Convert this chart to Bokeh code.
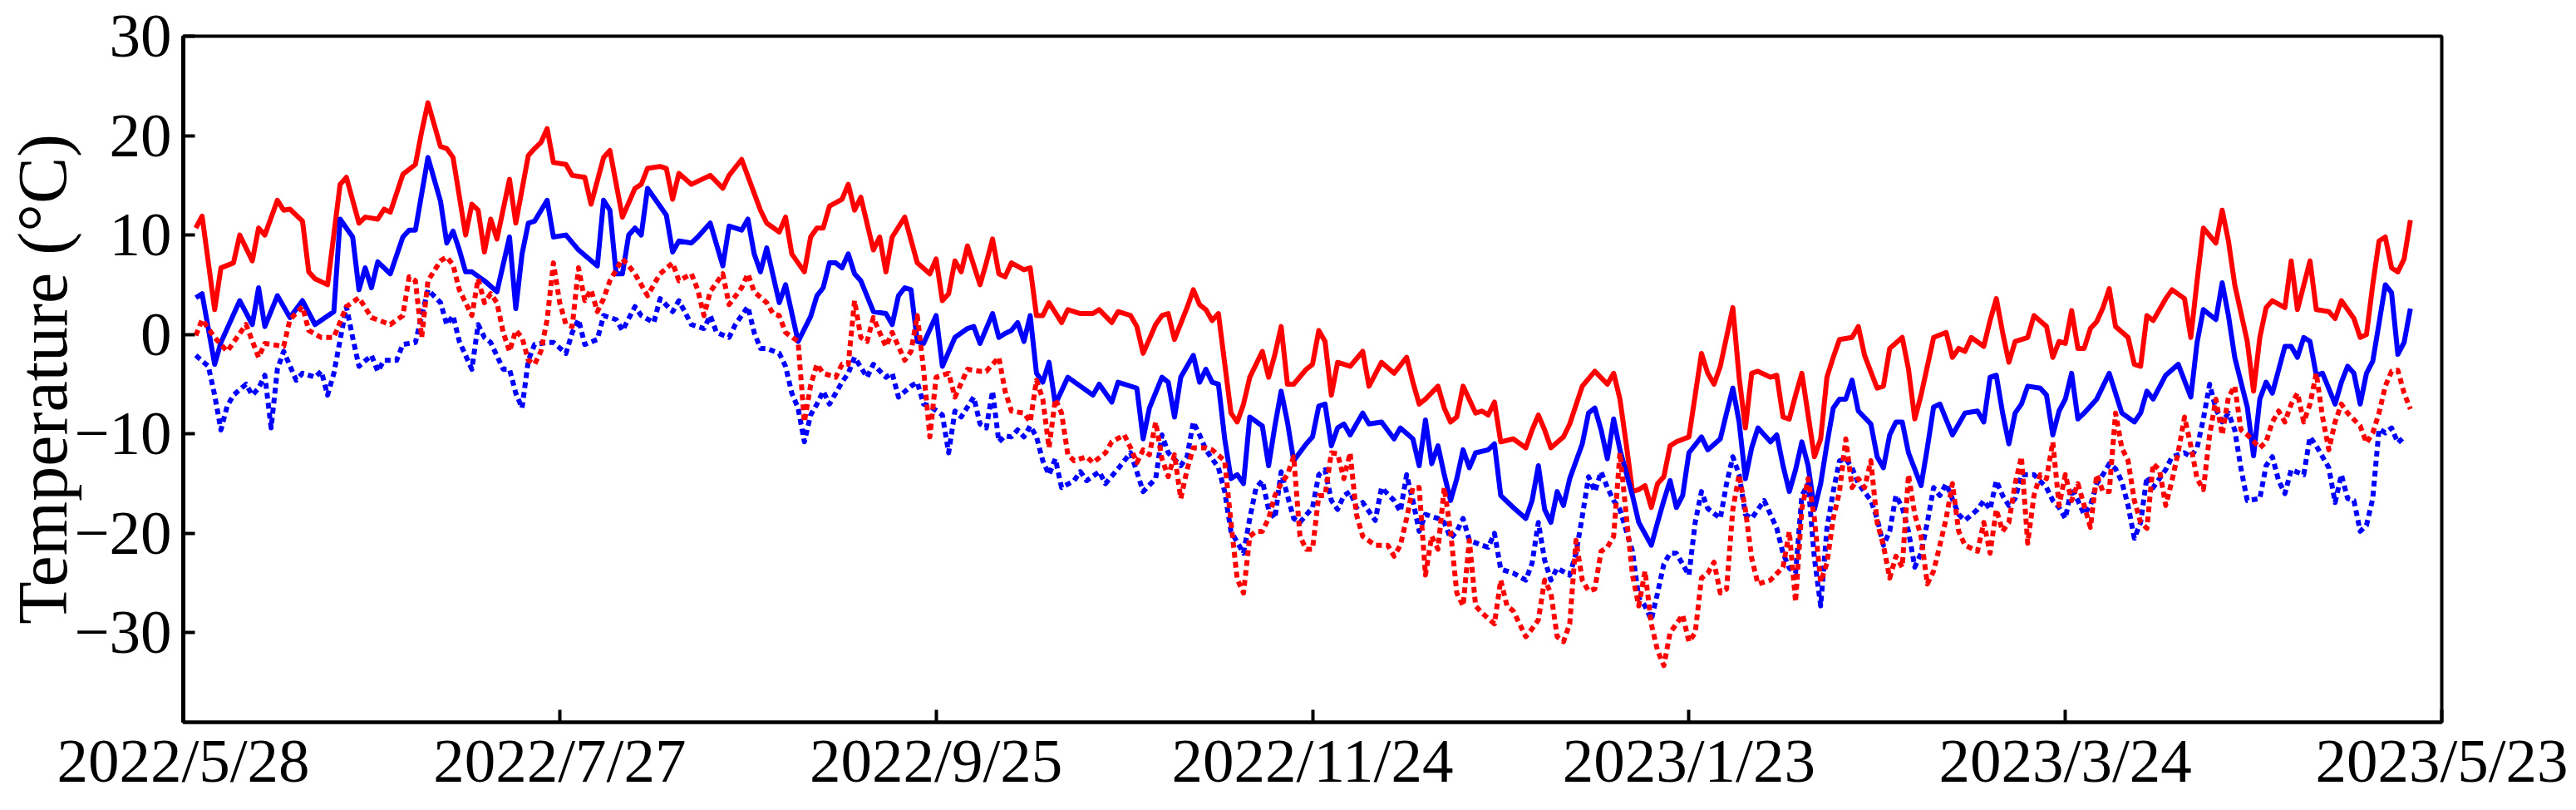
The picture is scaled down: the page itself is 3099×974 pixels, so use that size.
import datetime as dt
from bokeh.plotting import figure
from bokeh.models import Range1d, FixedTicker
from bokeh.embed import file_html
from bokeh.resources import INLINE

# ---------------- data (day offset from 2022/5/28, temperature in °C) ----------------
START = dt.datetime(2022, 5, 28)
EPOCH = dt.datetime(1970, 1, 1)

x_tick_days = [0, 60, 120, 180, 240, 300, 360]
x_tick_labels = ["2022/5/28", "2022/7/27", "2022/9/25", "2022/11/24",
                 "2023/1/23", "2023/3/24", "2023/5/23"]
y_tick_values = [-30, -20, -10, 0, 10, 20, 30]
y_tick_labels = ["\u221230", "\u221220", "\u221210", "0", "10", "20", "30"]
y_axis_title = "Temperature (\u00b0C)"

red_solid = [(2,10.7),(3,11.9),(5,2.5),(6,6.7),(8,7.2),(9,10.0),(11,7.4),(12,10.7),(13,10.0),(15,13.5),(16,12.5),(17,12.6),(19,11.4),(20,6.3),(21,5.6),(23,5.0),(25,15.1),(26,15.8),(28,11.2),(29,11.8),(31,11.6),(32,12.6),(33,12.3),(35,16.1),(37,17.1),(38,20.4),(39,23.3),(41,18.9),(42,18.7),(43,17.8),(45,10.0),(46,13.1),(47,12.5),(48,8.3),(49,11.6),(50,9.6),(52,15.6),(53,11.2),(55,18.0),(56,18.7),(57,19.3),(58,20.7),(59,17.3),(61,17.1),(62,16.0),(64,15.8),(65,13.1),(67,17.8),(68,18.5),(70,11.8),(72,14.7),(73,15.1),(74,16.7),(76,16.9),(77,16.7),(78,13.6),(79,16.2),(81,15.1),(84,16.0),(86,14.7),(87,16.0),(89,17.6),(91,14.2),(92,12.5),(93,11.2),(95,10.3),(96,11.8),(97,8.1),(99,6.3),(100,9.8),(101,10.7),(102,10.7),(103,12.9),(105,13.6),(106,15.1),(107,12.5),(108,13.8),(110,8.5),(111,9.8),(112,6.3),(113,9.8),(115,11.8),(117,7.2),(119,6.1),(120,7.6),(121,3.4),(122,4.1),(123,7.4),(124,6.3),(125,8.9),(127,5.0),(128,7.2),(129,9.6),(130,6.1),(131,5.8),(132,7.2),(134,6.5),(135,6.7),(136,1.9),(137,1.9),(138,3.2),(140,1.2),(141,2.5),(143,2.1),(145,2.1),(146,2.5),(148,1.2),(149,2.3),(151,1.9),(152,0.8),(153,-1.9),(155,1.0),(156,1.9),(157,2.1),(158,-0.5),(160,2.7),(161,4.5),(162,3.0),(163,2.5),(164,1.4),(165,2.1),(167,-7.9),(168,-8.8),(169,-7.0),(170,-4.3),(172,-1.7),(173,-4.3),(174,-2.0),(175,0.8),(176,-5.0),(177,-5.0),(179,-3.5),(180,-3.0),(181,0.4),(182,-0.7),(183,-6.1),(184,-2.8),(186,-3.2),(188,-1.7),(189,-5.2),(191,-2.8),(193,-3.9),(195,-2.3),(196,-4.8),(197,-7.0),(198,-6.5),(200,-5.2),(201,-7.4),(202,-8.8),(203,-8.3),(204,-5.2),(206,-7.9),(207,-7.7),(208,-8.1),(209,-6.8),(210,-10.8),(212,-10.5),(214,-11.4),(215,-9.6),(216,-8.1),(217,-9.6),(218,-11.4),(220,-10.3),(221,-9.0),(223,-5.2),(225,-3.7),(227,-5.0),(228,-3.9),(229,-6.5),(230,-11.0),(231,-15.8),(232,-15.6),(233,-15.2),(234,-17.4),(235,-15.0),(236,-14.3),(237,-11.2),(238,-10.8),(240,-10.3),(241,-6.1),(242,-1.9),(243,-3.9),(244,-5.0),(245,-3.2),(247,2.7),(248,-4.3),(249,-9.4),(250,-3.9),(251,-3.7),(253,-4.3),(254,-4.1),(255,-8.3),(256,-8.5),(257,-6.1),(258,-3.9),(259,-8.1),(260,-12.3),(261,-10.5),(262,-4.3),(263,-2.3),(264,-0.5),(266,-0.3),(267,0.8),(268,-2.1),(270,-5.4),(271,-5.2),(272,-1.4),(274,-0.3),(275,-3.5),(276,-8.5),(277,-6.1),(279,-0.3),(281,0.2),(282,-2.3),(283,-1.4),(284,-1.7),(285,-0.3),(287,-1.2),(288,1.4),(289,3.6),(290,0.2),(291,-2.8),(292,-0.7),(294,-0.3),(295,1.9),(297,0.8),(298,-2.3),(299,-0.7),(300,-0.9),(301,2.4),(302,-1.4),(303,-1.4),(304,0.6),(305,1.3),(306,2.7),(307,4.6),(308,0.8),(310,-0.3),(311,-3.0),(312,-3.2),(313,1.9),(314,1.4),(316,3.6),(317,4.5),(319,3.6),(320,-0.3),(321,5.4),(322,10.7),(324,9.2),(325,12.5),(326,9.4),(327,5.0),(329,-0.7),(330,-5.7),(331,-0.3),(332,2.7),(333,3.4),(335,2.7),(336,7.4),(337,2.5),(339,7.4),(340,2.5),(342,2.3),(343,1.6),(344,3.4),(346,1.6),(347,-0.3),(348,0.0),(349,5.0),(350,9.4),(351,9.8),(352,6.7),(353,6.3),(354,7.6),(355,11.5)]

blue_solid = [(2,3.7),(3,4.1),(5,-3.0),(6,-0.8),(9,3.4),(11,1.0),(12,4.7),(13,0.8),(15,3.9),(17,1.7),(19,3.4),(21,1.0),(24,2.3),(25,11.6),(27,9.8),(28,4.5),(29,6.7),(30,4.7),(31,7.3),(33,6.1),(35,9.8),(36,10.5),(37,10.5),(39,17.8),(41,13.4),(42,9.2),(43,10.4),(44,8.5),(45,6.3),(46,6.3),(48,5.4),(50,4.3),(52,9.8),(53,2.6),(54,8.1),(55,11.2),(56,11.4),(58,13.5),(59,9.8),(61,10.0),(63,8.5),(66,6.9),(67,13.5),(68,12.5),(69,6.1),(70,6.1),(71,10.0),(72,10.7),(73,10.0),(74,14.7),(77,12.0),(78,8.3),(79,9.4),(81,9.2),(82,9.8),(84,11.2),(86,6.9),(87,10.9),(89,10.5),(90,11.6),(91,8.1),(92,6.3),(93,8.7),(95,3.2),(96,5.0),(98,-0.7),(100,1.8),(101,3.9),(102,4.7),(103,7.2),(104,7.2),(105,6.7),(106,8.1),(107,6.1),(108,5.4),(110,2.3),(112,2.1),(113,1.0),(114,3.9),(115,4.7),(116,4.5),(117,-0.7),(118,-0.9),(120,1.9),(121,-3.2),(123,-0.3),(125,0.6),(126,0.8),(127,-0.9),(129,2.1),(130,-0.3),(131,0.1),(132,0.4),(133,1.2),(134,-0.7),(135,1.9),(136,-3.9),(137,-4.8),(138,-2.8),(139,-7.0),(141,-4.3),(143,-5.2),(145,-6.1),(146,-5.0),(148,-6.8),(149,-4.8),(152,-5.4),(153,-10.5),(154,-7.4),(156,-4.3),(157,-4.8),(158,-8.3),(159,-4.3),(161,-2.1),(162,-4.8),(163,-3.5),(164,-4.8),(165,-5.0),(166,-10.5),(167,-14.5),(168,-14.1),(169,-15.0),(170,-8.3),(172,-9.2),(173,-13.2),(174,-9.2),(175,-5.7),(176,-8.8),(177,-12.7),(179,-11.0),(180,-10.3),(181,-7.2),(182,-7.0),(183,-11.2),(184,-9.4),(185,-9.0),(186,-10.1),(188,-7.9),(189,-9.0),(191,-8.8),(193,-10.5),(194,-9.4),(196,-10.5),(197,-13.2),(198,-8.6),(199,-13.0),(200,-11.2),(201,-14.1),(202,-16.7),(203,-14.5),(204,-11.6),(205,-13.4),(206,-11.9),(208,-11.6),(209,-11.0),(210,-16.2),(212,-17.4),(214,-18.5),(215,-16.7),(216,-13.2),(217,-17.6),(218,-18.9),(219,-15.8),(220,-17.2),(221,-14.5),(223,-11.0),(224,-7.9),(225,-7.4),(226,-9.6),(227,-12.5),(228,-8.5),(229,-11.6),(231,-16.2),(232,-18.9),(234,-21.2),(235,-18.9),(236,-16.7),(237,-14.7),(238,-17.4),(239,-16.2),(240,-11.9),(242,-10.3),(243,-11.6),(245,-10.5),(246,-7.9),(247,-5.4),(248,-8.8),(249,-14.5),(250,-11.4),(251,-9.4),(253,-10.8),(254,-10.1),(255,-13.2),(256,-15.8),(257,-13.6),(258,-10.8),(259,-13.2),(260,-17.6),(261,-15.0),(262,-11.0),(263,-7.4),(264,-6.5),(265,-6.5),(266,-4.6),(267,-7.7),(269,-9.0),(270,-12.3),(271,-13.4),(272,-10.1),(273,-8.8),(274,-8.8),(275,-11.9),(277,-15.2),(278,-11.4),(279,-7.3),(280,-7.0),(282,-10.1),(284,-7.9),(286,-7.7),(287,-8.8),(288,-4.3),(289,-4.1),(290,-7.9),(291,-11.0),(292,-7.9),(293,-7.0),(294,-5.2),(296,-5.4),(297,-6.1),(298,-10.1),(299,-7.7),(300,-6.5),(301,-3.9),(302,-8.5),(303,-7.9),(305,-6.5),(306,-5.2),(307,-3.9),(309,-7.9),(311,-8.8),(312,-7.9),(313,-5.7),(314,-6.5),(316,-4.1),(318,-3.0),(320,-6.3),(321,-0.8),(322,2.5),(324,1.5),(325,5.2),(326,1.9),(327,-2.3),(329,-7.3),(330,-12.2),(331,-6.5),(332,-4.8),(333,-5.9),(335,-1.2),(336,-1.2),(337,-2.3),(338,-0.3),(339,-0.7),(340,-4.1),(341,-3.9),(343,-7.0),(344,-4.8),(345,-3.2),(346,-3.9),(347,-7.0),(348,-3.9),(349,-2.7),(350,1.1),(351,5.0),(352,4.2),(353,-2.0),(354,-0.8),(355,2.6)]

red_dotted = [(2,-0.1),(3,1.5),(5,-0.3),(7,-1.7),(10,1.0),(12,-2.3),(13,-0.9),(16,-1.2),(17,1.5),(19,2.8),(20,0.4),(22,-0.3),(24,-0.3),(26,2.8),(28,3.7),(30,1.7),(33,1.0),(35,1.9),(36,5.8),(37,5.4),(38,-0.3),(39,5.4),(41,7.4),(42,7.8),(43,7.0),(44,4.5),(46,1.9),(47,5.6),(48,3.2),(49,4.1),(50,3.2),(51,0.2),(52,-1.7),(53,0.4),(54,-0.3),(55,-2.6),(56,-3.0),(57,-1.7),(58,1.5),(59,7.2),(60,3.2),(61,1.0),(62,0.8),(63,6.7),(64,3.4),(65,4.5),(66,2.3),(67,3.6),(68,5.4),(70,7.6),(71,6.9),(72,6.1),(74,3.9),(76,6.1),(78,7.2),(79,5.4),(81,6.1),(82,4.5),(83,1.9),(84,4.3),(86,6.1),(87,3.0),(89,4.7),(90,6.1),(91,4.3),(93,3.2),(94,2.1),(95,1.9),(96,0.2),(98,-0.7),(99,-8.8),(100,-5.1),(101,-3.0),(102,-3.9),(104,-4.3),(105,-3.0),(106,-3.0),(107,3.4),(108,-0.3),(109,-0.7),(110,1.7),(111,0.2),(112,-1.2),(113,0.2),(115,-2.6),(116,-1.7),(117,1.9),(118,-3.5),(119,-10.3),(120,-4.3),(122,-3.9),(123,-6.3),(125,-3.5),(127,-3.7),(128,-3.7),(130,-2.3),(131,-5.7),(132,-7.7),(134,-7.9),(135,-8.8),(136,-4.6),(137,-6.5),(138,-11.4),(139,-6.5),(140,-7.9),(141,-12.1),(142,-12.7),(144,-12.3),(145,-12.9),(147,-11.9),(148,-10.8),(150,-10.1),(151,-11.4),(152,-12.9),(153,-11.6),(154,-12.1),(155,-8.8),(156,-12.5),(157,-14.3),(158,-12.1),(159,-16.5),(160,-13.6),(161,-11.4),(163,-11.4),(164,-11.6),(166,-12.7),(167,-18.9),(168,-24.6),(169,-26.0),(170,-20.3),(171,-19.8),(172,-19.8),(173,-18.5),(174,-16.2),(175,-15.0),(176,-14.1),(177,-12.3),(178,-20.3),(179,-21.6),(180,-21.6),(181,-16.2),(182,-16.2),(183,-11.9),(184,-12.0),(185,-14.5),(186,-11.9),(187,-18.1),(188,-20.3),(190,-21.2),(192,-21.2),(193,-22.3),(194,-21.2),(195,-18.5),(196,-15.4),(197,-15.4),(198,-24.2),(199,-20.3),(200,-21.6),(201,-15.4),(202,-19.8),(203,-26.0),(204,-27.3),(205,-20.7),(206,-27.3),(207,-28.0),(209,-29.1),(210,-24.7),(211,-27.3),(212,-27.8),(214,-30.4),(215,-29.6),(216,-28.7),(217,-24.7),(218,-26.0),(219,-30.4),(220,-30.9),(221,-29.1),(222,-20.7),(223,-24.7),(224,-25.8),(225,-25.6),(226,-21.8),(227,-21.4),(228,-20.3),(229,-11.9),(230,-18.1),(231,-24.2),(232,-27.3),(233,-23.8),(234,-29.1),(235,-31.8),(236,-33.3),(237,-30.0),(239,-28.2),(240,-30.9),(241,-30.0),(242,-24.5),(243,-24.0),(244,-22.9),(245,-26.0),(246,-25.6),(247,-17.6),(248,-14.1),(249,-17.6),(250,-22.5),(251,-25.1),(252,-24.9),(253,-24.7),(255,-23.4),(256,-19.8),(257,-26.9),(258,-17.5),(259,-14.5),(260,-18.5),(261,-24.9),(262,-23.0),(263,-18.5),(264,-15.8),(265,-10.5),(266,-15.4),(267,-14.5),(268,-15.4),(269,-12.7),(270,-18.9),(271,-21.2),(272,-24.5),(273,-22.3),(274,-23.4),(275,-14.1),(276,-18.1),(277,-20.3),(278,-25.1),(279,-23.8),(280,-21.2),(281,-18.5),(282,-15.0),(283,-19.8),(284,-21.2),(286,-21.8),(287,-18.9),(288,-22.0),(289,-17.6),(290,-19.8),(291,-18.9),(292,-15.0),(293,-12.3),(294,-21.0),(295,-16.2),(296,-14.1),(297,-14.5),(298,-10.8),(299,-17.2),(300,-14.1),(301,-16.7),(302,-15.0),(303,-17.2),(304,-19.4),(305,-14.1),(306,-15.8),(307,-15.8),(308,-7.9),(309,-11.4),(310,-12.7),(311,-16.7),(312,-18.9),(313,-19.5),(314,-13.0),(315,-13.6),(316,-17.2),(317,-14.7),(318,-11.8),(319,-8.3),(320,-11.2),(321,-14.5),(322,-15.6),(323,-10.1),(324,-6.5),(325,-10.1),(326,-6.3),(327,-5.2),(328,-9.6),(329,-10.1),(331,-11.4),(332,-10.8),(333,-8.8),(334,-7.7),(335,-8.8),(336,-7.0),(337,-5.9),(338,-8.8),(339,-7.0),(340,-3.9),(341,-8.3),(342,-11.6),(343,-8.8),(344,-7.0),(345,-7.9),(347,-9.2),(348,-10.9),(349,-9.9),(350,-7.9),(351,-5.2),(352,-3.7),(353,-3.6),(354,-5.9),(355,-7.5)]

blue_dotted = [(2,-2.1),(4,-3.2),(5,-6.1),(6,-9.6),(7,-7.2),(8,-6.1),(10,-5.0),(11,-6.1),(12,-5.4),(13,-4.1),(14,-9.4),(15,-3.5),(16,-1.7),(18,-4.6),(19,-3.9),(21,-4.3),(22,-3.7),(23,-6.1),(24,-3.9),(26,2.8),(27,-0.3),(28,-3.2),(30,-2.1),(31,-3.7),(32,-2.6),(34,-2.6),(35,-1.0),(37,-0.8),(39,4.5),(41,3.2),(42,1.0),(43,1.9),(44,-0.7),(45,-2.1),(46,-3.5),(47,1.0),(48,-0.3),(49,-0.8),(51,-3.5),(52,-3.5),(53,-5.9),(54,-7.4),(55,-2.6),(56,-1.0),(58,-0.8),(59,-0.8),(61,-1.9),(62,0.2),(63,1.5),(64,-1.0),(66,-0.5),(67,1.9),(69,1.5),(70,0.4),(72,2.8),(73,1.9),(75,1.2),(76,3.6),(78,2.3),(79,3.4),(81,1.0),(83,0.6),(84,1.9),(85,0.2),(87,-0.3),(88,1.0),(90,2.8),(91,0.2),(92,-1.4),(93,-1.4),(95,-1.9),(96,-3.2),(97,-5.9),(98,-7.4),(99,-10.8),(100,-8.1),(101,-7.0),(102,-5.7),(103,-7.0),(105,-4.8),(106,-3.9),(107,-2.3),(109,-4.3),(110,-3.0),(112,-4.3),(113,-3.9),(114,-6.3),(116,-5.2),(117,-4.8),(118,-7.0),(119,-7.2),(121,-8.1),(122,-11.9),(123,-7.7),(124,-8.3),(126,-6.3),(127,-9.0),(128,-9.4),(129,-5.7),(130,-10.8),(131,-10.2),(132,-10.3),(133,-9.6),(134,-10.3),(135,-9.2),(136,-10.3),(137,-12.7),(138,-14.1),(139,-12.5),(140,-15.4),(142,-14.7),(143,-13.8),(144,-14.7),(146,-13.8),(147,-15.0),(149,-13.5),(151,-11.9),(152,-13.8),(153,-15.8),(155,-14.5),(156,-10.1),(157,-11.9),(159,-13.2),(160,-12.3),(161,-8.8),(162,-10.1),(163,-11.6),(164,-12.5),(165,-13.4),(166,-15.8),(167,-19.8),(168,-20.9),(169,-22.0),(170,-18.5),(171,-15.4),(172,-14.7),(173,-17.6),(174,-18.5),(175,-13.8),(176,-16.2),(177,-18.5),(178,-18.9),(180,-17.4),(181,-14.1),(182,-13.6),(183,-16.7),(184,-17.6),(185,-16.2),(186,-15.8),(187,-17.4),(188,-16.9),(190,-18.7),(191,-15.4),(193,-16.7),(194,-17.8),(195,-14.1),(196,-16.7),(197,-19.8),(198,-18.1),(200,-18.5),(201,-18.9),(202,-20.5),(203,-19.8),(204,-18.5),(205,-20.7),(207,-21.2),(208,-21.4),(209,-20.0),(210,-23.6),(212,-24.0),(214,-24.7),(215,-23.0),(216,-18.9),(217,-22.7),(218,-24.7),(219,-23.5),(221,-24.2),(222,-22.0),(223,-18.3),(224,-14.3),(225,-15.8),(226,-13.8),(227,-15.4),(228,-16.7),(229,-17.6),(231,-21.8),(232,-26.5),(233,-27.3),(234,-28.7),(235,-26.0),(236,-23.1),(237,-22.0),(238,-22.0),(240,-24.2),(241,-18.9),(242,-15.8),(243,-17.5),(245,-18.5),(246,-15.0),(247,-12.3),(248,-14.1),(249,-18.1),(250,-18.5),(252,-16.7),(253,-18.1),(254,-19.5),(255,-22.0),(256,-23.5),(257,-24.0),(258,-16.2),(259,-15.0),(260,-22.5),(261,-27.3),(262,-19.5),(263,-15.8),(264,-12.7),(265,-12.5),(266,-13.4),(267,-15.0),(269,-16.7),(270,-18.5),(271,-21.2),(272,-19.8),(273,-16.2),(274,-17.4),(275,-19.8),(276,-23.4),(277,-22.0),(278,-18.9),(279,-15.4),(280,-16.2),(281,-15.0),(283,-18.1),(284,-18.7),(286,-17.6),(287,-16.7),(288,-17.6),(289,-14.7),(290,-16.2),(291,-17.2),(292,-16.5),(293,-14.1),(295,-14.1),(297,-15.4),(298,-16.7),(299,-17.4),(300,-18.5),(301,-15.4),(302,-16.7),(303,-18.1),(304,-17.2),(305,-15.0),(306,-14.1),(307,-13.0),(308,-13.5),(309,-14.8),(310,-17.2),(311,-20.5),(312,-18.9),(313,-14.3),(314,-15.4),(316,-13.6),(317,-12.3),(319,-11.9),(320,-12.3),(321,-11.4),(322,-8.5),(323,-5.0),(324,-7.5),(325,-8.8),(326,-7.9),(327,-9.6),(328,-13.5),(329,-16.7),(331,-16.5),(332,-13.2),(333,-12.3),(334,-14.7),(335,-16.0),(336,-13.6),(338,-14.1),(339,-10.3),(340,-11.2),(341,-12.3),(342,-13.4),(343,-16.9),(344,-14.1),(345,-16.5),(346,-16.7),(347,-19.8),(348,-19.2),(349,-16.5),(350,-9.5),(351,-9.9),(352,-9.4),(353,-10.9),(354,-10.3)]

# ---------------- helpers ----------------
def to_date(d):
    return START + dt.timedelta(days=d)

def to_ms(d):
    return int((to_date(d) - EPOCH).total_seconds() * 1000)

def split(series):
    return [to_date(d) for d, _ in series], [v for _, v in series]

FONT = "Liberation Serif"

p = figure(width=3099, height=970, x_axis_type="datetime",
           x_range=Range1d(to_date(x_tick_days[0]), to_date(x_tick_days[-1])),
           y_range=Range1d(-39, 30),
           output_backend="svg", toolbar_location=None,
           min_border_left=220, min_border_right=162,
           min_border_top=43, min_border_bottom=102)

p.background_fill_color = "white"
p.border_fill_color = "white"
p.outline_line_color = "black"
p.outline_line_width = 4
p.xgrid.visible = False
p.ygrid.visible = False

# series: red solid, blue solid, blue dotted, red dotted
styles = [
    (red_solid, "#ff0000", None),
    (blue_solid, "#0000ff", None),
    (blue_dotted, "#0000ff", "7 5"),
    (red_dotted, "#ff0000", "7 5"),
]
for series, color, dash in styles:
    xs, ys = split(series)
    if dash is None:
        p.line(xs, ys, line_color=color, line_width=6, line_join="round")
    else:
        p.line(xs, ys, line_color=color, line_width=6, line_dash=dash,
               line_cap="butt", line_join="round")

# x axis
xa = p.xaxis[0]
x_ms = [to_ms(d) for d in x_tick_days]
xa.ticker = FixedTicker(ticks=x_ms, minor_ticks=[])
xa.major_label_overrides = {ms: lab for ms, lab in zip(x_ms, x_tick_labels)}
xa.major_tick_in = 15
xa.major_tick_out = 0
xa.minor_tick_in = 0
xa.minor_tick_out = 0
xa.major_tick_line_width = 4
xa.axis_line_width = 4
xa.major_label_text_font = FONT
xa.major_label_text_font_size = "75px"
xa.major_label_text_color = "black"
xa.major_label_standoff = 4

# y axis
ya = p.yaxis[0]
ya.ticker = FixedTicker(ticks=y_tick_values, minor_ticks=[])
ya.major_label_overrides = {v: lab for v, lab in zip(y_tick_values, y_tick_labels)}
ya.major_tick_in = 14
ya.major_tick_out = 0
ya.minor_tick_in = 0
ya.minor_tick_out = 0
ya.major_tick_line_width = 4
ya.axis_line_width = 5
ya.major_label_text_font = FONT
ya.major_label_text_font_size = "75px"
ya.major_label_text_color = "black"
ya.major_label_standoff = 14
ya.axis_label = y_axis_title
ya.axis_label_text_font = FONT
ya.axis_label_text_font_size = "84px"
ya.axis_label_text_font_style = "normal"
ya.axis_label_text_color = "black"
ya.axis_label_standoff = -12

with open("out.html", "w", encoding="utf-8") as f:
    f.write(file_html(p, INLINE))
